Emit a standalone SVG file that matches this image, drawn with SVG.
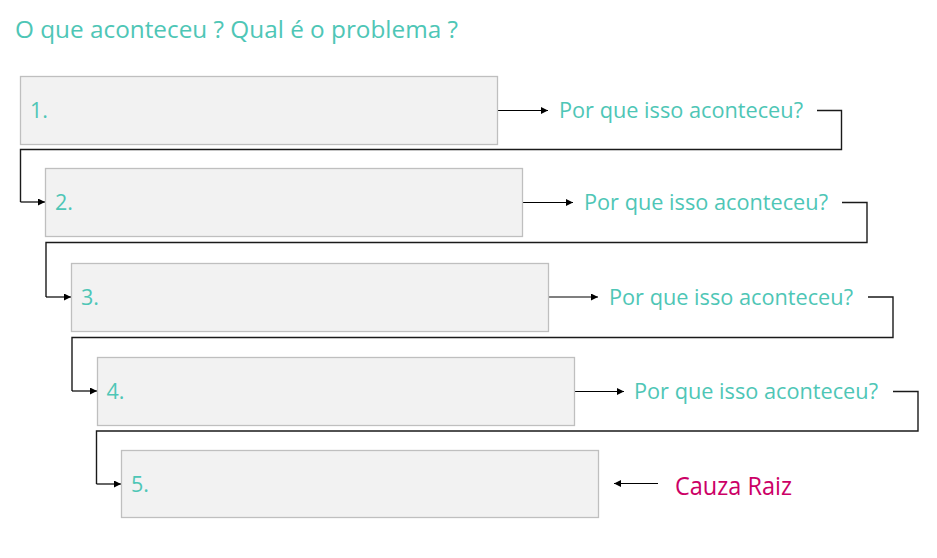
<svg xmlns="http://www.w3.org/2000/svg" width="937" height="558" viewBox="0 0 937 558">
<defs>
<marker id="ah" viewBox="0 0 10 10" refX="10" refY="5" markerWidth="9" markerHeight="7" markerUnits="userSpaceOnUse" orient="auto">
<path d="M0,0 L10,5 L0,10 z" fill="#000"/>
</marker>
</defs>
<style>
.box{fill:#F2F2F2;stroke:#BFBFBF;stroke-width:1.3}
.num{font-family:"Open Sans","Noto Sans",sans-serif;font-size:21.5px;fill:#4EC6B6}
.q{font-family:"Open Sans","Noto Sans",sans-serif;font-size:22px;fill:#4EC6B6}
.title{font-family:"Open Sans","Noto Sans",sans-serif;font-size:23px;fill:#4EC6B6}
.root{font-family:"Open Sans","Noto Sans",sans-serif;font-size:25px;fill:#CC0066}
.c{fill:none;stroke:#1a1a1a;stroke-width:1.4}
.a{fill:none;stroke:#000;stroke-width:1.2;marker-end:url(#ah)}
</style>
<rect width="937" height="558" fill="#fff"/>
<text class="title" x="15" y="37.5" textLength="443" lengthAdjust="spacingAndGlyphs">O que aconteceu ? Qual é o problema ?</text>

<g id="connectors">
<path class="a" d="M498,110.5 H548"/>
<path class="c" d="M817,110.5 H841.5 V149.5 H20.5 V202"/>
<path class="a" d="M20.5,202 H45"/>
<path class="a" d="M522,202.5 H573"/>
<path class="c" d="M842,202.5 H867 V242.5 H46 V297"/>
<path class="a" d="M46,297 H71"/>
<path class="a" d="M548,297 H598"/>
<path class="c" d="M868,297 H893 V337.5 H72 V391"/>
<path class="a" d="M72,391 H97"/>
<path class="a" d="M574,391.5 H624"/>
<path class="c" d="M893,391.5 H918 V431 H96.5 V484"/>
<path class="a" d="M96.5,484 H121"/>
<path class="a" d="M658,483.5 H614"/>
</g>

<g id="node1"><rect class="box" x="20.5" y="76.5" width="477" height="68"/><text class="num" x="30" y="118">1.</text></g>
<g id="node2"><rect class="box" x="45.5" y="168.5" width="477" height="68"/><text class="num" x="55" y="209.5">2.</text></g>
<g id="node3"><rect class="box" x="71.5" y="263.5" width="477" height="68"/><text class="num" x="81" y="304.5">3.</text></g>
<g id="node4"><rect class="box" x="97.5" y="357.5" width="477" height="68"/><text class="num" x="106.5" y="398.5">4.</text></g>
<g id="node5"><rect class="box" x="121.5" y="450.5" width="477" height="67"/><text class="num" x="131" y="491.5">5.</text></g>

<g id="q1"><text class="q" x="559" y="118" textLength="244" lengthAdjust="spacingAndGlyphs">Por que isso aconteceu?</text></g>
<g id="q2"><text class="q" x="584" y="210" textLength="244" lengthAdjust="spacingAndGlyphs">Por que isso aconteceu?</text></g>
<g id="q3"><text class="q" x="609" y="304.5" textLength="244" lengthAdjust="spacingAndGlyphs">Por que isso aconteceu?</text></g>
<g id="q4"><text class="q" x="634" y="399" textLength="244" lengthAdjust="spacingAndGlyphs">Por que isso aconteceu?</text></g>
<g id="root"><text class="root" x="675" y="495" textLength="117" lengthAdjust="spacingAndGlyphs">Cauza Raiz</text></g>
</svg>
